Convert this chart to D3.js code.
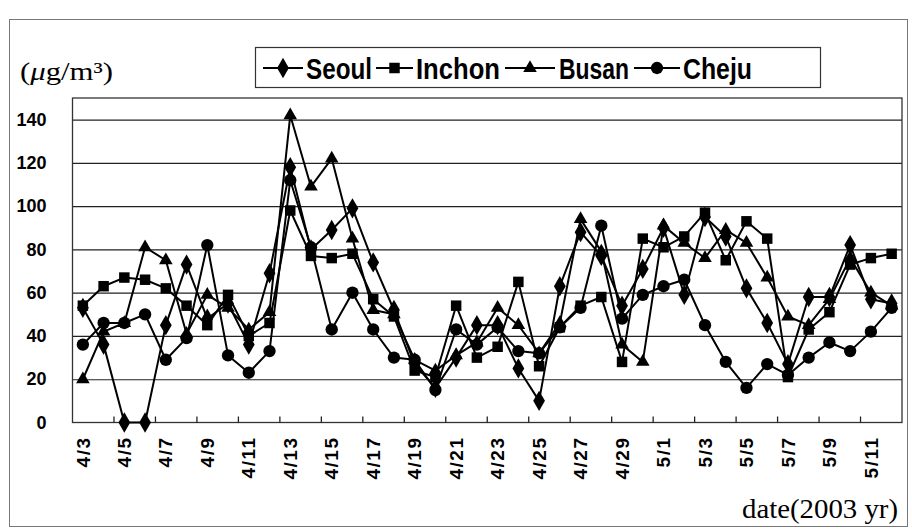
<!DOCTYPE html>
<html><head><meta charset="utf-8">
<script src="https://cdn.jsdelivr.net/npm/d3@7/dist/d3.min.js"></script>
<style>body{margin:0;background:#fff}</style>
</head><body>
<svg id="c" width="912" height="530"></svg>
<script>
const dates = ["4/3","4/4","4/5","4/6","4/7","4/8","4/9","4/10","4/11","4/12","4/13","4/14","4/15","4/16","4/17","4/18","4/19","4/20","4/21","4/22","4/23","4/24","4/25","4/26","4/27","4/28","4/29","4/30","5/1","5/2","5/3","5/4","5/5","5/6","5/7","5/8","5/9","5/10","5/11","5/12"];
const tickLabels = ["4/3","4/5","4/7","4/9","4/11","4/13","4/15","4/17","4/19","4/21","4/23","4/25","4/27","4/29","5/1","5/3","5/5","5/7","5/9","5/11"];
const yTicks = [0,20,40,60,80,100,120,140];
const seoul  = [53,36,0,0,45,73,48,55,36,69,118,80,89,99,74,52,27,16,30,45,45,25,10,63,88,77,54,71,90,59,95,86,62,46,27,58,58,82,57,55];
const inchon = [54,63,67,66,62,54,45,59,40,46,98,77,76,78,57,49,24,21,54,30,35,65,26,44,54,58,28,85,81,86,97,75,93,85,21,43,51,73,76,78];
const busan  = [20,42,46,81,75,41,59,53,43,51,142,109,122,85,52,50,29,24,31,37,53,45,32,46,94,79,36,28,91,83,76,89,83,67,49,45,57,76,60,54];
const cheju  = [36,46,46,50,29,39,82,31,23,33,112,81,43,60,43,30,29,15,43,36,44,33,32,44,53,91,48,59,63,66,45,28,16,27,22,30,37,33,42,53];
const seriesNames = ["Seoul","Inchon","Busan","Cheju"];

const series = [
  {name: seriesNames[0], values: seoul,  sym: d3.symbolDiamond, size: 120},
  {name: seriesNames[1], values: inchon, sym: d3.symbolSquare,  size: 110},
  {name: seriesNames[2], values: busan,  sym: d3.symbolTriangle,size: 80},
  {name: seriesNames[3], values: cheju,  sym: d3.symbolCircle,  size: 120}
];

const svg = d3.select("#c");
const L = 72.5, R = 902, T = 98, B = 422.5;

svg.append("rect").attr("x",9.5).attr("y",19.5).attr("width",898).attr("height",507)
  .attr("fill","none").attr("stroke","#777").attr("stroke-width",1);

const x = d3.scaleBand().domain(dates).range([L,R]).padding(0);
const y = d3.scaleLinear().domain([0,150]).range([B,T]);
const cx = d => x(d) + x.bandwidth()/2;

const grid = svg.append("g").attr("transform",`translate(${L},0)`)
  .call(d3.axisLeft(y).tickValues(yTicks.filter(v=>v>0)).tickSize(-(R-L)).tickFormat(""));
grid.select(".domain").remove();
grid.selectAll(".tick line").attr("stroke","#222").attr("stroke-width",1.2);

svg.append("rect").attr("x",L).attr("y",T).attr("width",R-L).attr("height",B-T)
  .attr("fill","none").attr("stroke","#333").attr("stroke-width",1.3);

const ya = svg.append("g").attr("transform",`translate(${L},0)`)
  .call(d3.axisLeft(y).tickValues(yTicks).tickSize(0).tickPadding(26));
ya.select(".domain").remove();
ya.selectAll("text").attr("font-family","'Liberation Sans', Arial, sans-serif")
  .attr("font-weight","bold").attr("font-size",18).attr("fill","#000");

const bounds = d3.range(2, dates.length, 2).map(i => x(dates[i]));
svg.append("g").selectAll("line").data(bounds).join("line")
  .attr("x1",d=>d).attr("x2",d=>d).attr("y1",B).attr("y2",B-6)
  .attr("stroke","#222").attr("stroke-width",1.3);

const xa = svg.append("g").attr("transform",`translate(0,${B})`)
  .call(d3.axisBottom(x).tickValues(tickLabels).tickSize(0).tickPadding(0));
xa.select(".domain").remove();
xa.selectAll("text")
  .attr("font-family","'Liberation Sans', Arial, sans-serif")
  .attr("font-weight","bold").attr("font-size",19).attr("letter-spacing",1.5).attr("fill","#000")
  .attr("text-anchor","end").attr("dy","0.35em")
  .attr("transform","translate(0,14) rotate(-90)");

const line = d3.line().x((d,i)=>cx(dates[i])).y(d=>y(d));
series.forEach(s => {
  svg.append("path").datum(s.values).attr("d",line)
    .attr("fill","none").attr("stroke","#000").attr("stroke-width",2).attr("stroke-linejoin","round");
});
series.forEach(s => {
  svg.append("g").selectAll("path").data(s.values).join("path")
    .attr("d", d3.symbol().type(s.sym).size(s.size))
    .attr("transform",(d,i)=>`translate(${cx(dates[i])},${y(d)})`)
    .attr("fill","#000");
});

svg.append("rect").attr("x",255.5).attr("y",47.5).attr("width",565).attr("height",40)
  .attr("fill","#fff").attr("stroke","#333").attr("stroke-width",1.2);
const legX = [[263,303,306,66],[376,413,416,84],[505,555,559,70],[634,680,683,69]];
series.forEach((s,k) => {
  const [a,b,t,w] = legX[k];
  const g = svg.append("g");
  g.append("line").attr("x1",a).attr("x2",b).attr("y1",68).attr("y2",68).attr("stroke","#000").attr("stroke-width",2);
  g.append("path").attr("d",d3.symbol().type(s.sym).size(s.size)).attr("transform",`translate(${(a+b)/2},68)`).attr("fill","#000");
  g.append("text").attr("x",t).attr("y",79).text(s.name)
    .attr("textLength",w).attr("lengthAdjust","spacingAndGlyphs")
    .attr("font-family","'Liberation Sans',Arial,sans-serif")
    .attr("font-weight","bold").attr("font-size",29).attr("fill","#000");
});

const unit = svg.append("text").attr("x",20).attr("y",80)
  .attr("textLength",93).attr("lengthAdjust","spacingAndGlyphs")
  .attr("font-family","'Liberation Serif','Times New Roman',serif").attr("font-size",25).attr("fill","#000");
unit.append("tspan").text("(");
unit.append("tspan").attr("font-style","italic").text("μ");
unit.append("tspan").text("g/m³)");

svg.append("text").attr("x",742).attr("y",518)
  .attr("textLength",156).attr("lengthAdjust","spacingAndGlyphs")
  .attr("font-family","'Liberation Serif','Times New Roman',serif").attr("font-size",27)
  .attr("fill","#000").text("date(2003 yr)");
</script>
</body></html>
